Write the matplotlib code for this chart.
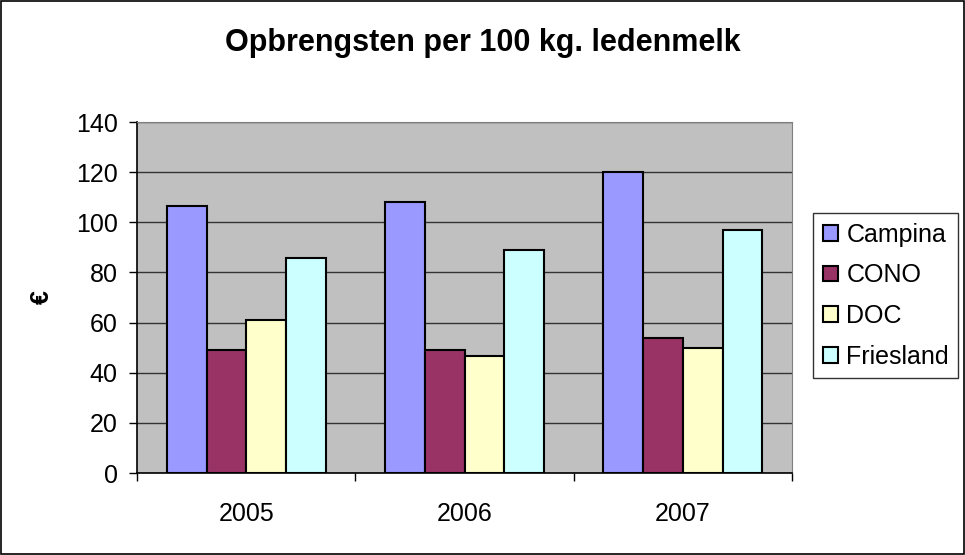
import numpy as np
import matplotlib.pyplot as plt
from matplotlib.patches import Rectangle

plt.rcParams['font.family'] = ['Liberation Sans', 'DejaVu Sans']

years = ['2005', '2006', '2007']
series = ['Campina', 'CONO', 'DOC', 'Friesland']
campina = [106.6, 108.2, 120.2]
cono = [49.2, 49.2, 53.8]
doc = [61.1, 46.7, 49.8]
friesland = [85.9, 88.9, 97.0]
colors = ['#9999FF', '#993366', '#FFFFCC', '#CCFFFF']

values = [campina, cono, doc, friesland]

fig = plt.figure(figsize=(9.65, 5.55), dpi=100)
ax = fig.add_axes([0.142, 0.1477, 0.6788, 0.6324])
ax.set_facecolor('#C0C0C0')

x = np.arange(len(years))
w = 1 / 5.5  # excel gap width 150%
for i, (name, vals) in enumerate(zip(series, values)):
    ax.bar(x + (i - 1.5) * w, vals, width=w, color=colors[i],
           edgecolor='black', linewidth=1.5, label=name, zorder=3)

ax.set_xlim(-0.5, 2.5)
ax.set_ylim(0, 140)
ax.set_yticks(range(0, 141, 20))
ax.yaxis.grid(True, color='#333333', linewidth=1, zorder=0)
ax.set_axisbelow(True)

ax.set_xticks(x)
ax.set_xticklabels(years)
ax.set_xticks([-0.5, 0.5, 1.5, 2.5], minor=True)
ax.tick_params(axis='x', which='major', length=0, pad=21, labelsize=18)
ax.tick_params(axis='x', which='minor', length=6, width=1, direction='out')
ax.tick_params(axis='y', length=6, width=1, direction='out', labelsize=18, pad=8)

for s in ['top', 'right']:
    ax.spines[s].set_color('#808080')
for s in ['left', 'bottom']:
    ax.spines[s].set_color('black')
    ax.spines[s].set_linewidth(1.2)

ax.set_ylabel('€', fontsize=18, fontweight='bold', labelpad=16)

fig.text(0.5, 1 - 43 / 555, 'Opbrengsten per 100 kg. ledenmelk', ha='center', va='center',
         fontsize=22, fontweight='bold')

leg = fig.legend(loc='upper left', bbox_to_anchor=(813 / 965, 1 - 213 / 555),
                 frameon=True, fancybox=False, edgecolor='black', fontsize=18,
                 handlelength=0.6, handleheight=0.6, handletextpad=0.35,
                 labelspacing=0.67, borderpad=0.38, borderaxespad=0)
leg.get_frame().set_linewidth(1)

fig.patches.append(Rectangle((0.001, 0.001), 0.998, 0.997, transform=fig.transFigure,
                             fill=False, edgecolor='black', linewidth=1.2))

fig.savefig('out.png', dpi=100)
